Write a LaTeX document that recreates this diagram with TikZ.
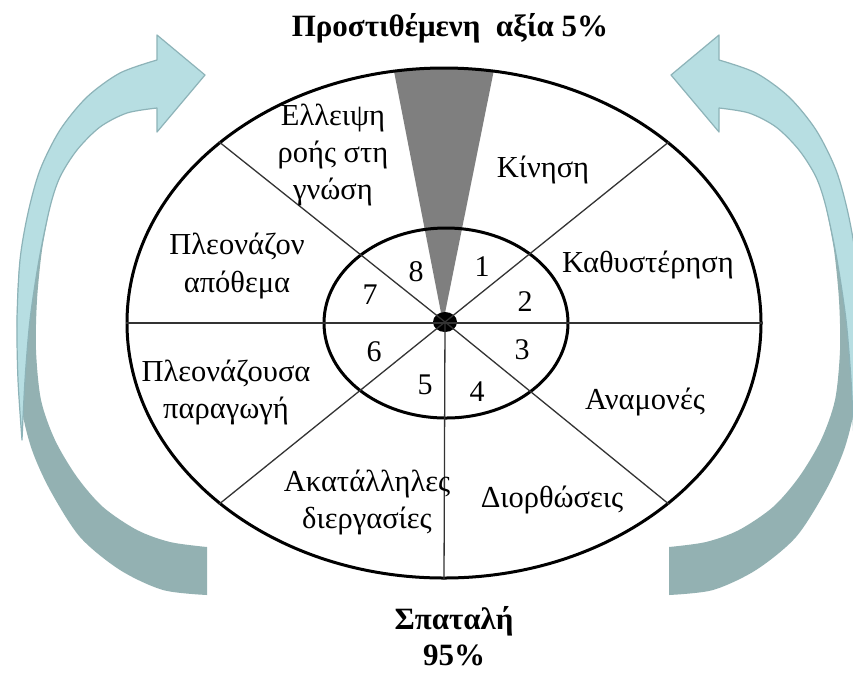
\documentclass[tikz,border=0pt]{standalone}
\usepackage{fontspec}
\setmainfont{Liberation Serif}
\usetikzlibrary{shapes.geometric}

\definecolor{arrowlight}{HTML}{B7DEE2}
\definecolor{arrowedge}{HTML}{8DB3B8}
\definecolor{arrowdark}{HTML}{93B1B2}
\definecolor{wedgegray}{HTML}{7F7F7F}

\tikzset{
  lbl/.style={font=\fontsize{30.5}{37}\selectfont, align=center, inner sep=0pt},
  num/.style={font=\fontsize{30}{32}\selectfont, inner sep=0pt},
  headline/.style={font=\bfseries\fontsize{31}{36}\selectfont, align=center, inner sep=0pt},
  spoke/.style={line width=1.3pt, draw=black!80},
  ring/.style={ellipse, draw, line width=3pt, inner sep=0pt},
  frontpart/.style={fill=arrowlight, draw=arrowedge, line width=1.2pt, line join=round},
  backpart/.style={fill=arrowdark},
}

% one curved arrow: dark back band ending in the tail, light front band with the head
\newcommand\drawcyclearrow{%
  \path[backpart] plot[smooth] coordinates {(50,207) (42,250) (37,300) (36,350) (41,400) (55,440) (77,477) (103,507) (137,530) (170,542) (207,547)}
    -- plot[smooth] coordinates {(207,595) (163,590) (120,570) (80,537) (50,490) (32,450) (22,410) (18,360) (17,310) (20,260) (30,220)}
    -- cycle;
  \path[frontpart] plot[smooth] coordinates {(157,60) (120,73) (87,97) (60,130) (40,170) (28,213) (20,260) (17,320) (18,380) (22,440)}
    -- plot[smooth] coordinates {(22,440) (25,380) (30,320) (39,260) (50,207) (60,177) (77,150) (100,127) (127,113) (157,108)}
    -- (157,132) -- (205,75) -- (157,35) -- cycle;
}

\begin{document}
\begin{tikzpicture}[x=1pt,y=-1pt]
\useasboundingbox (0,0) rectangle (853,673);
\fill[white] (0,0) rectangle (853,673);

% curved arrows on both sides
\drawcyclearrow
\begin{scope}[xshift=876pt, xscale=-1]
  \drawcyclearrow
\end{scope}

% grey value-added wedge
\begin{scope}
  \clip (444,323) ellipse [x radius=317, y radius=255];
  \fill[wedgegray] (443,323) -- (384,20) -- (504,20) -- cycle;
\end{scope}

% rings and hub
\node[ring, minimum width=634pt, minimum height=510pt] (outer) at (444,323) {};
\node[ring, minimum width=244pt, minimum height=190pt] (inner) at (446,323) {};
\node[ellipse, fill=black, minimum width=24pt, minimum height=20pt, inner sep=0pt] (hub) at (445,322) {};

% spokes
\draw[spoke] (hub.center) -- (outer.north east);
\draw[spoke] (hub.center) -- (outer.north west);
\draw[spoke] (hub.center) -- (outer.south east);
\draw[spoke] (hub.center) -- (outer.south west);
\draw[spoke] (outer.west) -- (outer.east);
\draw[spoke] (hub.center) -- (outer.south);

% headings
\node[headline] (gain) at (450,28) {Προστιθέμενη\ \ αξία 5\%};
\node[headline] (waste) at (454,636) {Σπαταλή\\95\%};

% sector labels
\node[lbl] (s8) at (333,155) {Ελλειψη\\ροής στη\\γνώση};
\node[lbl] (s1) at (543,170) {Κίνηση};
\node[lbl] (s2) at (648,265) {Καθυστέρηση};
\node[lbl] (s3) at (645,402) {Αναμονές};
\node[lbl] (s4) at (552,500) {Διορθώσεις};
\node[lbl] (s5) at (367,502) {Ακατάλληλες\\διεργασίες};
\node[lbl] (s6) at (226,392) {Πλεονάζουσα\\παραγωγή};
\node[lbl] (s7) at (237,266) {Πλεονάζον\\απόθεμα};

% sector numbers
\node[num] (n1) at (482,267) {1};
\node[num] (n2) at (525,302) {2};
\node[num] (n3) at (522,350) {3};
\node[num] (n4) at (477,392) {4};
\node[num] (n5) at (425,385) {5};
\node[num] (n6) at (374,352) {6};
\node[num] (n7) at (370,295) {7};
\node[num] (n8) at (416,272) {8};
\end{tikzpicture}
\end{document}
